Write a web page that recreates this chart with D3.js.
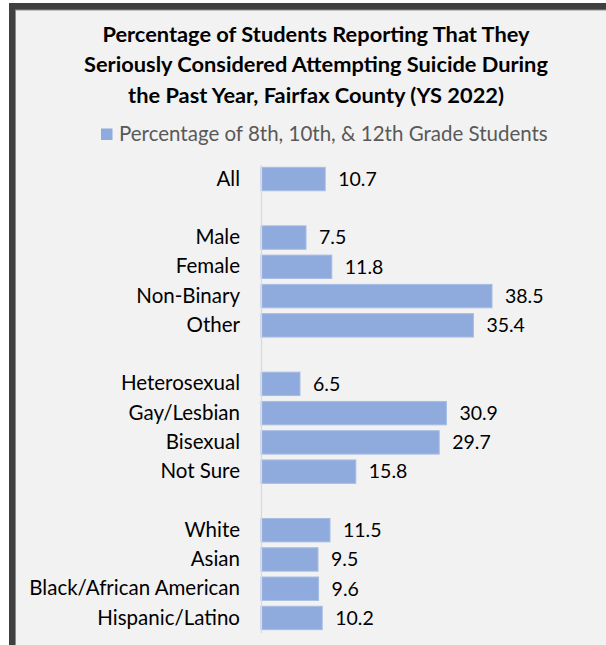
<!DOCTYPE html>
<html>
<head>
<meta charset="utf-8">
<script src="https://cdn.jsdelivr.net/npm/d3@7"></script>
<style>
  html, body { margin: 0; padding: 0; background: #ffffff; }
  svg { display: block; }
</style>
</head>
<body>
<div id="chart"></div>
<script>
// Groups are separated by blank rows (empty category names).
const categories = [
  "All", "",
  "Male", "Female", "Non-Binary", "Other", "",
  "Heterosexual", "Gay/Lesbian", "Bisexual", "Not Sure", "",
  "White", "Asian", "Black/African American", "Hispanic/Latino"
];
const values = [
  10.7, null,
  7.5, 11.8, 38.5, 35.4, null,
  6.5, 30.9, 29.7, 15.8, null,
  11.5, 9.5, 9.6, 10.2
];
const titleLines = [
  "Percentage of Students Reporting That They",
  "Seriously Considered Attempting Suicide During",
  "the Past Year, Fairfax County (YS 2022)"
];
const seriesName = "Percentage of 8th, 10th, & 12th Grade Students";

const W = 606, H = 645;
const FONT = "Lato, 'Open Sans', sans-serif";
const BAR = "#8faadc";

const svg = d3.select("#chart").append("svg")
  .attr("width", W).attr("height", H);

// Frame: dark border on top and left, light grey panel inside
svg.append("rect").attr("x", 9).attr("y", 3).attr("width", W).attr("height", H)
  .attr("fill", "#404040");
svg.append("rect").attr("x", 15).attr("y", 9.5).attr("width", W).attr("height", H)
  .attr("fill", "#8c8c8c");
svg.append("rect").attr("x", 16).attr("y", 10.5).attr("width", W).attr("height", H)
  .attr("fill", "#f2f2f2");

// Title
const title = svg.append("text")
  .attr("text-anchor", "middle")
  .attr("font-family", FONT)
  .attr("font-weight", "bold")
  .attr("font-size", 21.8)
  .attr("fill", "#000");
titleLines.forEach((t, i) => {
  title.append("tspan").attr("x", 316).attr("y", 41.5 + i * 30.5).text(t);
});

// Legend
const legend = svg.append("g");
legend.append("rect").attr("x", 101).attr("y", 128.5).attr("width", 11.5).attr("height", 11.5)
  .attr("fill", BAR);
legend.append("text").attr("x", 119).attr("y", 140.5)
  .attr("font-family", FONT).attr("font-size", 20.5).attr("fill", "#595959")
  .text(seriesName);

// Scales
const rows = categories.map((c, i) => ({ key: i, name: c, value: values[i] }));
const x = d3.scaleLinear().domain([0, 50]).range([261, 561]);
const y = d3.scaleBand().domain(rows.map(d => d.key))
  .range([164.4, 632.6]).paddingInner(0.2).paddingOuter(0.1);

// Bars
const data = rows.filter(d => d.value != null);
svg.append("g").selectAll("rect").data(data).join("rect")
  .attr("x", x(0))
  .attr("y", d => y(d.key))
  .attr("width", d => x(d.value) - x(0))
  .attr("height", y.bandwidth())
  .attr("fill", BAR)
  .attr("stroke", "#a7bde4")
  .attr("stroke-width", 1);

// Category axis (line only, labels drawn to the left)
const axis = svg.append("g").attr("transform", `translate(${x(0)},0)`)
  .call(d3.axisLeft(y).tickSize(0).tickPadding(21).tickFormat(k => categories[k]));
axis.select(".domain").attr("stroke", "#d9d9d9").attr("stroke-width", 1.2);
axis.selectAll("text")
  .attr("font-family", FONT).attr("font-size", 20.5).attr("fill", "#000");

// Value labels
svg.append("g").selectAll("text").data(data).join("text")
  .attr("x", d => x(d.value) + 13)
  .attr("y", d => y(d.key) + y.bandwidth() / 2)
  .attr("dy", "0.35em")
  .attr("font-family", FONT).attr("font-size", 19.5).attr("fill", "#000")
  .text(d => d3.format(".1f")(d.value));
</script>
</body>
</html>
